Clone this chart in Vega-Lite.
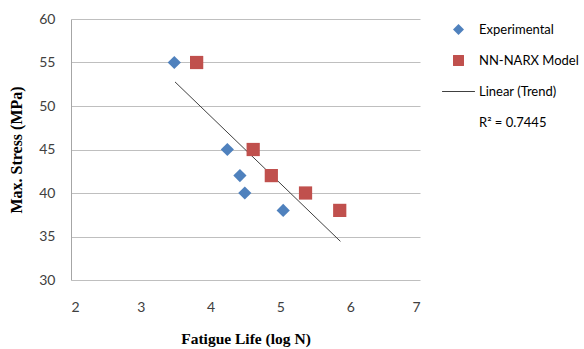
{
  "$schema": "https://vega.github.io/schema/vega-lite/v6.json",
  "autosize": "none",
  "width": 349,
  "height": 261,
  "padding": {"left": 71, "top": 19, "right": 164, "bottom": 69},
  "background": "white",
  "config": {
    "view": {"stroke": null},
    "font": "Lato"
  },
  "datasets": {
    "pts": [
      {"series": "Experimental", "life": 3.48, "stress": 55},
      {"series": "Experimental", "life": 4.24, "stress": 45},
      {"series": "Experimental", "life": 4.42, "stress": 42},
      {"series": "Experimental", "life": 4.49, "stress": 40},
      {"series": "Experimental", "life": 5.04, "stress": 38},
      {"series": "NN-NARX Model", "life": 3.80, "stress": 55},
      {"series": "NN-NARX Model", "life": 4.61, "stress": 45},
      {"series": "NN-NARX Model", "life": 4.87, "stress": 42},
      {"series": "NN-NARX Model", "life": 5.36, "stress": 40},
      {"series": "NN-NARX Model", "life": 5.85, "stress": 38}
    ],
    "trend": [
      {"series": "Linear (Trend)", "life": 3.49, "stress": 52.77},
      {"series": "Linear (Trend)", "life": 5.86, "stress": 34.44}
    ]
  },
  "layer": [
    {
      "data": {"name": "trend"},
      "mark": {"type": "line", "color": "#404040", "strokeWidth": 1},
      "encoding": {
        "x": {"field": "life", "type": "quantitative"},
        "y": {"field": "stress", "type": "quantitative"}
      }
    },
    {
      "data": {"name": "pts"},
      "mark": {"type": "point", "filled": true, "opacity": 1, "size": 175},
      "encoding": {
        "x": {
          "field": "life", "type": "quantitative",
          "scale": {"domain": [2, 7], "nice": false, "zero": false},
          "axis": {
            "title": "Fatigue Life (log N)", "values": [2, 3, 4, 5, 6, 7], "format": "d",
            "grid": false, "domain": false, "ticks": false,
            "labelPadding": 20, "labelFont": "Lato", "labelFontSize": 14, "labelColor": "#404040",
            "titleFont": "Liberation Serif", "titleFontSize": 15.5, "titleFontWeight": "bold", "titleColor": "#000000",
            "titlePadding": 17
          }
        },
        "y": {
          "field": "stress", "type": "quantitative",
          "scale": {"domain": [30, 60], "nice": false, "zero": false},
          "axis": {
            "title": "Max. Stress (MPa)", "values": [30, 35, 40, 45, 50, 55, 60], "format": "d",
            "grid": true, "gridColor": "#bfbfbf", "gridWidth": 1,
            "domain": true, "domainColor": "#a6a6a6", "ticks": false,
            "labelPadding": 16, "labelFont": "Lato", "labelFontSize": 14, "labelColor": "#404040",
            "titleFont": "Liberation Serif", "titleFontSize": 16, "titleFontWeight": "bold", "titleColor": "#000000",
            "titlePadding": 14
          }
        },
        "color": {
          "field": "series", "type": "nominal",
          "scale": {
            "domain": ["Experimental", "NN-NARX Model", "Linear (Trend)", "R² = 0.7445"],
            "range": ["#4f81bd", "#c0504d", "#404040", "transparent"]
          },
          "legend": {
            "title": null, "orient": "none", "legendX": 381, "legendY": 4,
            "labelFont": "Lato", "labelFontSize": 13, "labelColor": "#000000",
            "symbolSize": 120, "rowPadding": 17, "labelOffset": 14
          }
        },
        "shape": {
          "field": "series", "type": "nominal",
          "scale": {
            "domain": ["Experimental", "NN-NARX Model", "Linear (Trend)", "R² = 0.7445"],
            "range": ["diamond", "square", "M-3,-0.09H3V0.09H-3Z", "circle"]
          },
          "legend": null
        }
      }
    }
  ]
}
